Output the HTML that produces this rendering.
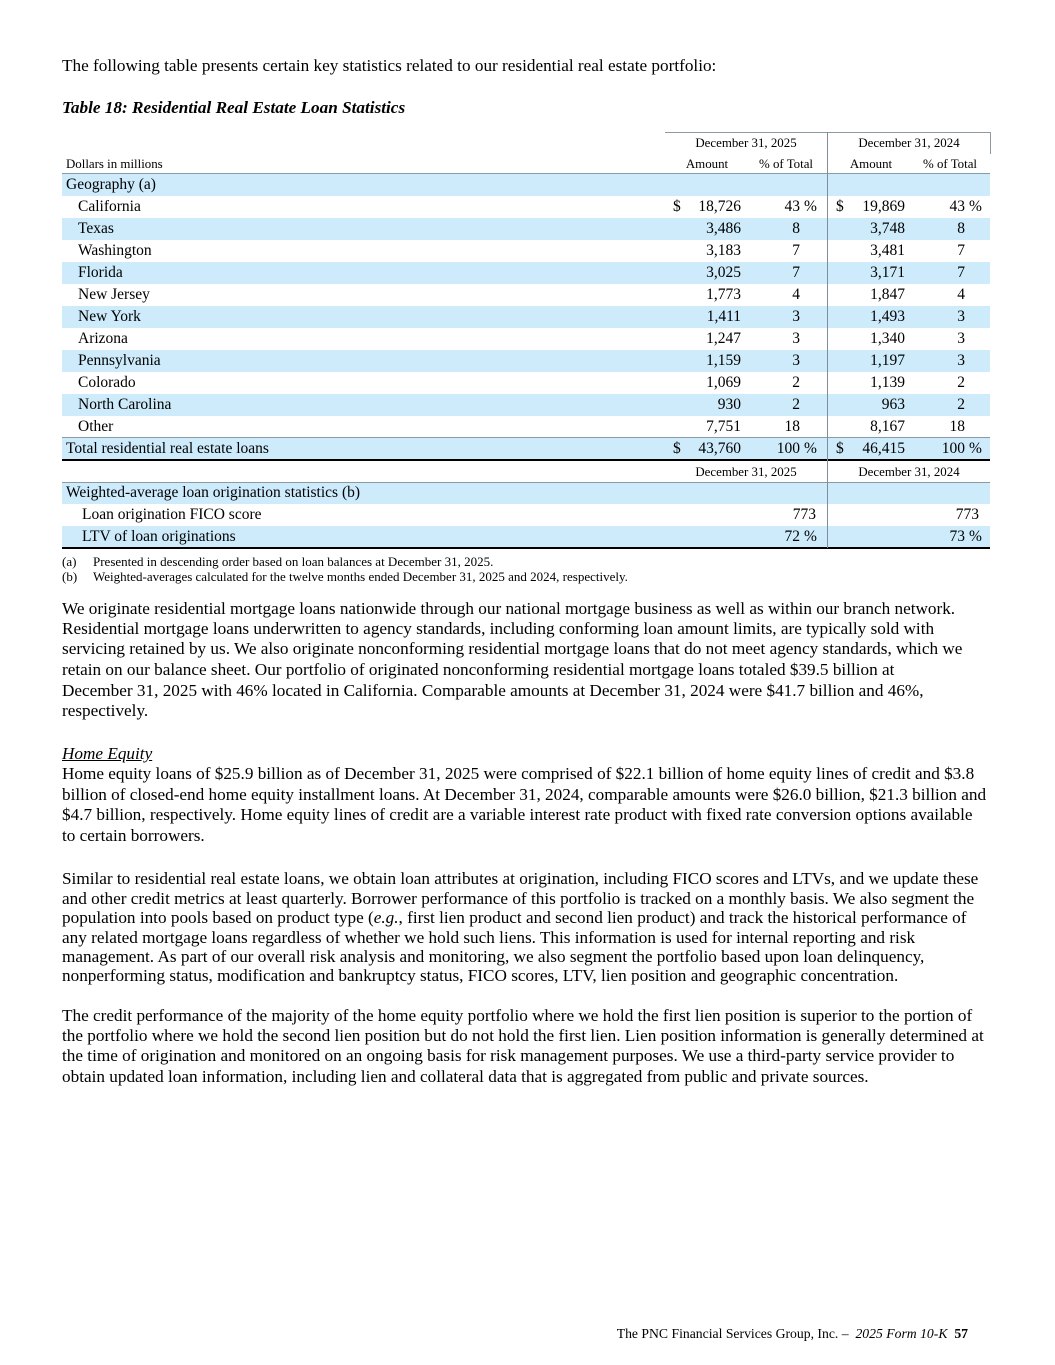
<!DOCTYPE html>
<html><head><meta charset="utf-8">
<style>
html,body{margin:0;padding:0;background:#fff;}
body{width:1055px;height:1365px;position:relative;overflow:hidden;font-family:"Liberation Serif","Times New Roman",serif;color:#000;}
.a{position:absolute;white-space:nowrap;}
.t{position:absolute;white-space:nowrap;font-size:17.2px;line-height:20px;left:62px;}
.band{position:absolute;left:62px;width:928px;height:22px;background:#cdebfb;}
.hl{position:absolute;left:62px;width:928px;height:1px;background:#8a9ba6;}
.tk{position:absolute;left:62px;width:928px;height:2px;background:#000;}
.r{position:absolute;font-size:15.5px;line-height:22px;height:22px;white-space:nowrap;}
.h{position:absolute;font-size:12.9px;line-height:20px;white-space:nowrap;text-align:center;}
.v1{right:314px}.q1{right:255px}.v2{right:150px}.q2{right:90px}
.d1{left:673px}.d2{left:836px}.p1{left:804px}.p2{left:969px}
.fn{position:absolute;white-space:nowrap;font-size:13px;line-height:15px;}
</style></head><body>

<div class="t" style="top:56px">The following table presents certain key statistics related to our residential real estate portfolio:</div>
<div class="t" style="top:98px;font-weight:bold;font-style:italic">Table 18: Residential Real Estate Loan Statistics</div>

<!-- bands -->
<div class="band" style="top:174px"></div>
<div class="band" style="top:218px"></div>
<div class="band" style="top:262px"></div>
<div class="band" style="top:306px"></div>
<div class="band" style="top:350px"></div>
<div class="band" style="top:394px"></div>
<div class="band" style="top:438px"></div>
<div class="band" style="top:482px"></div>
<div class="band" style="top:526px"></div>

<!-- lines -->
<div class="a" style="left:665px;top:132px;width:325px;height:1px;background:#8a9ba6"></div>
<div class="a" style="left:990px;top:132px;width:1px;height:22px;background:#8a9ba6"></div>
<div class="hl" style="top:173px"></div>
<div class="hl" style="top:437px"></div>
<div class="tk" style="top:459px"></div>
<div class="hl" style="top:482px"></div>
<div class="tk" style="top:547px"></div>
<div class="a" style="left:827px;top:132px;width:1px;height:416px;background:#7f8f99"></div>

<!-- header -->
<div class="h" style="left:665px;width:162px;top:133px">December 31, 2025</div>
<div class="h" style="left:828px;width:162px;top:133px">December 31, 2024</div>
<div class="h" style="left:66px;top:154px;text-align:left">Dollars in millions</div>
<div class="h" style="left:667px;width:80px;top:154px">Amount</div>
<div class="h" style="left:746px;width:80px;top:154px">% of Total</div>
<div class="h" style="left:831px;width:80px;top:154px">Amount</div>
<div class="h" style="left:910px;width:80px;top:154px">% of Total</div>

<!-- rows -->
<div class="r" style="top:174px;left:66px">Geography (a)</div>

<div class="r" style="top:196px;left:78px">California</div>
<div class="r d1" style="top:196px">$</div><div class="r v1" style="top:196px">18,726</div><div class="r q1" style="top:196px">43</div><div class="r p1" style="top:196px">%</div>
<div class="r d2" style="top:196px">$</div><div class="r v2" style="top:196px">19,869</div><div class="r q2" style="top:196px">43</div><div class="r p2" style="top:196px">%</div>

<div class="r" style="top:218px;left:78px">Texas</div>
<div class="r v1" style="top:218px">3,486</div><div class="r q1" style="top:218px">8</div>
<div class="r v2" style="top:218px">3,748</div><div class="r q2" style="top:218px">8</div>

<div class="r" style="top:240px;left:78px">Washington</div>
<div class="r v1" style="top:240px">3,183</div><div class="r q1" style="top:240px">7</div>
<div class="r v2" style="top:240px">3,481</div><div class="r q2" style="top:240px">7</div>

<div class="r" style="top:262px;left:78px">Florida</div>
<div class="r v1" style="top:262px">3,025</div><div class="r q1" style="top:262px">7</div>
<div class="r v2" style="top:262px">3,171</div><div class="r q2" style="top:262px">7</div>

<div class="r" style="top:284px;left:78px">New Jersey</div>
<div class="r v1" style="top:284px">1,773</div><div class="r q1" style="top:284px">4</div>
<div class="r v2" style="top:284px">1,847</div><div class="r q2" style="top:284px">4</div>

<div class="r" style="top:306px;left:78px">New York</div>
<div class="r v1" style="top:306px">1,411</div><div class="r q1" style="top:306px">3</div>
<div class="r v2" style="top:306px">1,493</div><div class="r q2" style="top:306px">3</div>

<div class="r" style="top:328px;left:78px">Arizona</div>
<div class="r v1" style="top:328px">1,247</div><div class="r q1" style="top:328px">3</div>
<div class="r v2" style="top:328px">1,340</div><div class="r q2" style="top:328px">3</div>

<div class="r" style="top:350px;left:78px">Pennsylvania</div>
<div class="r v1" style="top:350px">1,159</div><div class="r q1" style="top:350px">3</div>
<div class="r v2" style="top:350px">1,197</div><div class="r q2" style="top:350px">3</div>

<div class="r" style="top:372px;left:78px">Colorado</div>
<div class="r v1" style="top:372px">1,069</div><div class="r q1" style="top:372px">2</div>
<div class="r v2" style="top:372px">1,139</div><div class="r q2" style="top:372px">2</div>

<div class="r" style="top:394px;left:78px">North Carolina</div>
<div class="r v1" style="top:394px">930</div><div class="r q1" style="top:394px">2</div>
<div class="r v2" style="top:394px">963</div><div class="r q2" style="top:394px">2</div>

<div class="r" style="top:416px;left:78px">Other</div>
<div class="r v1" style="top:416px">7,751</div><div class="r q1" style="top:416px">18</div>
<div class="r v2" style="top:416px">8,167</div><div class="r q2" style="top:416px">18</div>

<div class="r" style="top:438px;left:66px">Total residential real estate loans</div>
<div class="r d1" style="top:438px">$</div><div class="r v1" style="top:438px">43,760</div><div class="r q1" style="top:438px">100</div><div class="r p1" style="top:438px">%</div>
<div class="r d2" style="top:438px">$</div><div class="r v2" style="top:438px">46,415</div><div class="r q2" style="top:438px">100</div><div class="r p2" style="top:438px">%</div>

<div class="h" style="left:665px;width:162px;top:462px">December 31, 2025</div>
<div class="h" style="left:828px;width:162px;top:462px">December 31, 2024</div>

<div class="r" style="top:482px;left:66px">Weighted-average loan origination statistics (b)</div>
<div class="r" style="top:504px;left:82px">Loan origination FICO score</div>
<div class="r" style="top:504px;right:239px">773</div>
<div class="r" style="top:504px;right:76px">773</div>
<div class="r" style="top:526px;left:82px">LTV of loan originations</div>
<div class="r q1" style="top:526px">72</div><div class="r p1" style="top:526px">%</div>
<div class="r q2" style="top:526px">73</div><div class="r p2" style="top:526px">%</div>

<!-- footnotes -->
<div class="fn" style="left:62px;top:554px">(a)</div>
<div class="fn" style="left:93px;top:554px">Presented in descending order based on loan balances at December 31, 2025.</div>
<div class="fn" style="left:62px;top:569px">(b)</div>
<div class="fn" style="left:93px;top:569px">Weighted-averages calculated for the twelve months ended December 31, 2025 and 2024, respectively.</div>

<!-- paragraph 1 -->
<div class="t" style="top:599px">We originate residential mortgage loans nationwide through our national mortgage business as well as within our branch network.</div>
<div class="t" style="top:619px">Residential mortgage loans underwritten to agency standards, including conforming loan amount limits, are typically sold with</div>
<div class="t" style="top:639px">servicing retained by us. We also originate nonconforming residential mortgage loans that do not meet agency standards, which we</div>
<div class="t" style="top:660px">retain on our balance sheet. Our portfolio of originated nonconforming residential mortgage loans totaled $39.5 billion at</div>
<div class="t" style="top:681px">December 31, 2025 with 46% located in California. Comparable amounts at December 31, 2024 were $41.7 billion and 46%,</div>
<div class="t" style="top:701px">respectively.</div>

<div class="t" style="top:744px;font-style:italic;text-decoration:underline">Home Equity</div>
<div class="t" style="top:764px">Home equity loans of $25.9 billion as of December 31, 2025 were comprised of $22.1 billion of home equity lines of credit and $3.8</div>
<div class="t" style="top:785px">billion of closed-end home equity installment loans. At December 31, 2024, comparable amounts were $26.0 billion, $21.3 billion and</div>
<div class="t" style="top:805px">$4.7 billion, respectively. Home equity lines of credit are a variable interest rate product with fixed rate conversion options available</div>
<div class="t" style="top:826px">to certain borrowers.</div>

<div class="t" style="top:869px">Similar to residential real estate loans, we obtain loan attributes at origination, including FICO scores and LTVs, and we update these</div>
<div class="t" style="top:889px">and other credit metrics at least quarterly. Borrower performance of this portfolio is tracked on a monthly basis. We also segment the</div>
<div class="t" style="top:908px">population into pools based on product type (<i>e.g.</i>, first lien product and second lien product) and track the historical performance of</div>
<div class="t" style="top:928px">any related mortgage loans regardless of whether we hold such liens. This information is used for internal reporting and risk</div>
<div class="t" style="top:947px">management. As part of our overall risk analysis and monitoring, we also segment the portfolio based upon loan delinquency,</div>
<div class="t" style="top:966px">nonperforming status, modification and bankruptcy status, FICO scores, LTV, lien position and geographic concentration.</div>

<div class="t" style="top:1006px">The credit performance of the majority of the home equity portfolio where we hold the first lien position is superior to the portion of</div>
<div class="t" style="top:1026px">the portfolio where we hold the second lien position but do not hold the first lien. Lien position information is generally determined at</div>
<div class="t" style="top:1046px">the time of origination and monitored on an ongoing basis for risk management purposes. We use a third-party service provider to</div>
<div class="t" style="top:1067px">obtain updated loan information, including lien and collateral data that is aggregated from public and private sources.</div>

<!-- footer -->
<div class="a" style="right:87px;top:1324px;font-size:13.7px;line-height:20px">The PNC Financial Services Group, Inc. –&nbsp; <i>2025 Form 10-K</i>&nbsp; <b>57</b></div>

</body></html>
